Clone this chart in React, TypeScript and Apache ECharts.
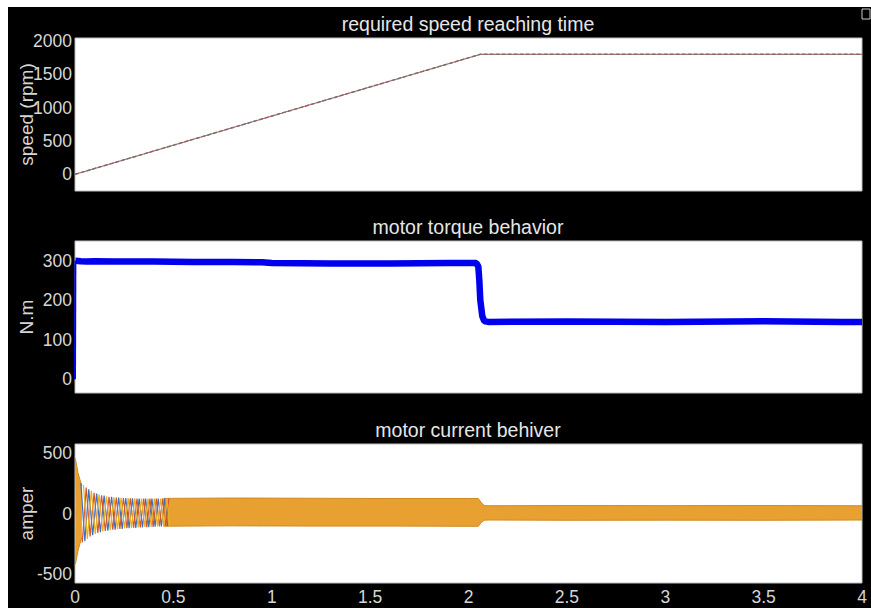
import React, { useEffect, useRef } from 'react';
import * as echarts from 'echarts';

const titles = ['required speed reaching time', 'motor torque behavior', 'motor current behiver'];
const yNames = ['speed (rpm)', 'N.m', 'amper'];

const speedTime = [0, 2.06, 4];
const speedRpm = [0, 1800, 1800];

const torqueTime = [0.002, 0.03, 0.06, 0.1, 0.2, 0.4, 0.6, 0.8, 0.95, 1.0, 1.3, 1.6, 1.9, 2.04, 2.05, 2.055, 2.06, 2.07, 2.08, 2.1, 2.5, 3.0, 3.5, 3.9, 4.0];
const torqueNm = [300, 299, 298, 299, 298, 298, 297, 297, 296, 294, 293, 293, 294, 294, 285, 250, 200, 160, 147, 145, 146, 145, 147, 145, 145];

const bandTime = [0, 0.003, 0.008, 0.015, 0.025, 0.035, 0.2, 0.45, 0.8, 1.2, 1.6, 2.0, 2.05, 2.065, 2.08, 2.1, 2.5, 3.0, 3.5, 4.0];
const bandUpper = [460, 445, 400, 340, 280, 230, null, 125, 128, 126, 124, 124, 124, 90, 66, 64, 66, 65, 66, 64];
const bandLower = [-420, -410, -370, -310, -250, -200, null, -105, -102, -104, -104, -106, -106, -75, -56, -54, -56, -55, -56, -54];

const phaseATime = [0.030, 0.050, 0.070, 0.090, 0.110, 0.129, 0.148, 0.167, 0.186, 0.204, 0.222, 0.240, 0.258, 0.275, 0.292, 0.309, 0.326, 0.343, 0.359, 0.375, 0.391, 0.407, 0.423, 0.439, 0.455, 0.471];
const phaseA = [250, -230, 200, -180, 165, -155, 148, -142, 138, -134, 132, -127, 128, -122, 125, -119, 124, -116, 124, -113, 124, -110, 124, -106, 124, -105];
const phaseBTime = [0.037, 0.057, 0.077, 0.097, 0.116, 0.135, 0.154, 0.173, 0.192, 0.210, 0.228, 0.246, 0.264, 0.281, 0.298, 0.315, 0.332, 0.349, 0.365, 0.381, 0.397, 0.413, 0.429, 0.445, 0.461, 0.477];
const phaseB = [-240, 215, -190, 172, -160, 150, -144, 138, -134, 132, -127, 128, -122, 125, -118, 124, -115, 124, -113, 124, -112, 124, -108, 124, -105, 124];
const phaseCTime = [0.043, 0.063, 0.083, 0.103, 0.122, 0.141, 0.160, 0.179, 0.198, 0.216, 0.234, 0.252, 0.270, 0.287, 0.304, 0.321, 0.338, 0.355, 0.371, 0.387, 0.403, 0.419, 0.435, 0.451, 0.467, 0.483];
const phaseC = [235, -210, 188, -170, 158, -149, 143, -138, 133, -129, 130, -123, 127, -119, 125, -115, 124, -112, 124, -111, 124, -108, 124, -106, 124, -105];

const zip = (xs: number[], ys: (number | null)[]) => xs.map((x, i) => [x, ys[i] === null ? '-' : ys[i]]);

const FONT = 'Liberation Sans, Arial, sans-serif';
const LABEL = '#d6d6d6';

export default function App() {
  const ref = useRef<HTMLDivElement>(null);
  useEffect(() => {
    if (!ref.current) return;
    const chart = echarts.init(ref.current, null, { renderer: 'svg' });
    const grids = [
      { left: 75, top: 38, width: 787, height: 153 },
      { left: 75, top: 241, width: 787, height: 152 },
      { left: 75, top: 444, width: 787, height: 139 },
    ];
    const yRanges = [
      { min: -250, max: 2045, interval: 250, step: 500 },
      { min: -35, max: 350, interval: 5, step: 100 },
      { min: -575, max: 575, interval: 25, step: 500 },
    ];
    const option: any = {
      animation: false,
      textStyle: { fontFamily: FONT },
      title: grids.map((g, i) => ({
        text: titles[i],
        left: 468,
        top: g.top - 14,
        textAlign: 'center',
        textVerticalAlign: 'middle',
        padding: 0,
        textStyle: { color: '#e6e6e6', fontSize: 19.5, fontWeight: 'normal', fontFamily: FONT },
      })),
      grid: grids.map((g) => ({ ...g, show: true, backgroundColor: '#ffffff', borderColor: '#bdbdbd', borderWidth: 1 })),
      xAxis: grids.map((g, i) => ({
        type: 'value',
        gridIndex: i,
        min: 0,
        max: 4,
        interval: 0.5,
        axisLine: { show: false },
        axisTick: { show: false },
        splitLine: { show: false },
        axisLabel: { show: i === 2, color: LABEL, fontSize: 17.5, margin: 5, fontFamily: FONT },
      })),
      yAxis: grids.map((g, i) => ({
        type: 'value',
        gridIndex: i,
        min: yRanges[i].min,
        max: yRanges[i].max,
        interval: yRanges[i].interval,
        axisLine: { show: false },
        axisTick: { show: false },
        splitLine: { show: false },
        axisLabel: {
          color: LABEL,
          fontSize: 17.5,
          margin: 3,
          fontFamily: FONT,
          formatter: (v: number) => {
            const r = Math.round(v);
            if (Math.abs(v - r) > 1e-6) return '';
            if (i < 2 && r < 0) return '';
            return r % yRanges[i].step === 0 ? String(r) : '';
          },
        },
        name: yNames[i],
        nameLocation: 'middle',
        nameRotate: 90,
        nameGap: 39,
        nameMoveOverlap: false,
        nameTextStyle: { color: LABEL, fontSize: 19, fontFamily: FONT },
      })),
      series: [
        { type: 'line', xAxisIndex: 0, yAxisIndex: 0, data: zip(speedTime, speedRpm), showSymbol: false, lineStyle: { color: '#b85050', width: 1 } },
        { type: 'line', xAxisIndex: 0, yAxisIndex: 0, data: zip(speedTime, speedRpm), showSymbol: false, lineStyle: { color: '#787070', width: 1.5, type: [4, 2] } },
        { type: 'line', xAxisIndex: 1, yAxisIndex: 1, data: [[0, 0], [torqueTime[0], torqueNm[0]]], showSymbol: false, lineStyle: { color: '#0000ee', width: 2 } },
        { type: 'line', xAxisIndex: 1, yAxisIndex: 1, data: zip(torqueTime, torqueNm), showSymbol: false, lineStyle: { color: '#0000ee', width: 6.5 } },
        { type: 'line', xAxisIndex: 2, yAxisIndex: 2, data: zip(bandTime, bandUpper), showSymbol: false, connectNulls: false, lineStyle: { color: '#cf8a22', width: 1 }, areaStyle: { color: '#e8a030', opacity: 1, origin: -40 } },
        { type: 'line', xAxisIndex: 2, yAxisIndex: 2, data: zip(bandTime, bandLower), showSymbol: false, connectNulls: false, lineStyle: { color: '#cf8a22', width: 1 }, areaStyle: { color: '#e8a030', opacity: 1, origin: 40 } },
        { type: 'line', xAxisIndex: 2, yAxisIndex: 2, data: zip(phaseATime, phaseA), showSymbol: false, lineStyle: { color: '#3a6fc4', width: 1.2 } },
        { type: 'line', xAxisIndex: 2, yAxisIndex: 2, data: zip(phaseBTime, phaseB), showSymbol: false, lineStyle: { color: '#d4562a', width: 1.2 } },
        { type: 'line', xAxisIndex: 2, yAxisIndex: 2, data: zip(phaseCTime, phaseC), showSymbol: false, lineStyle: { color: '#e8b020', width: 1.2 } },
      ],
      graphic: [
        { type: 'rect', shape: { x: 862, y: 9, width: 8, height: 10 }, style: { fill: 'none', stroke: '#cccccc', lineWidth: 1 } },
      ],
    };
    chart.setOption(option);
    return () => chart.dispose();
  }, []);
  return (
    <div style={{ position: 'fixed', left: 0, top: 0, width: 871, height: 608, background: '#ffffff' }}>
      <div style={{ position: 'absolute', left: 8, top: 7, right: 0, bottom: 0, background: '#000000' }} />
      <div ref={ref} style={{ position: 'absolute', left: 0, top: 0, width: 871, height: 608 }} />
    </div>
  );
}
